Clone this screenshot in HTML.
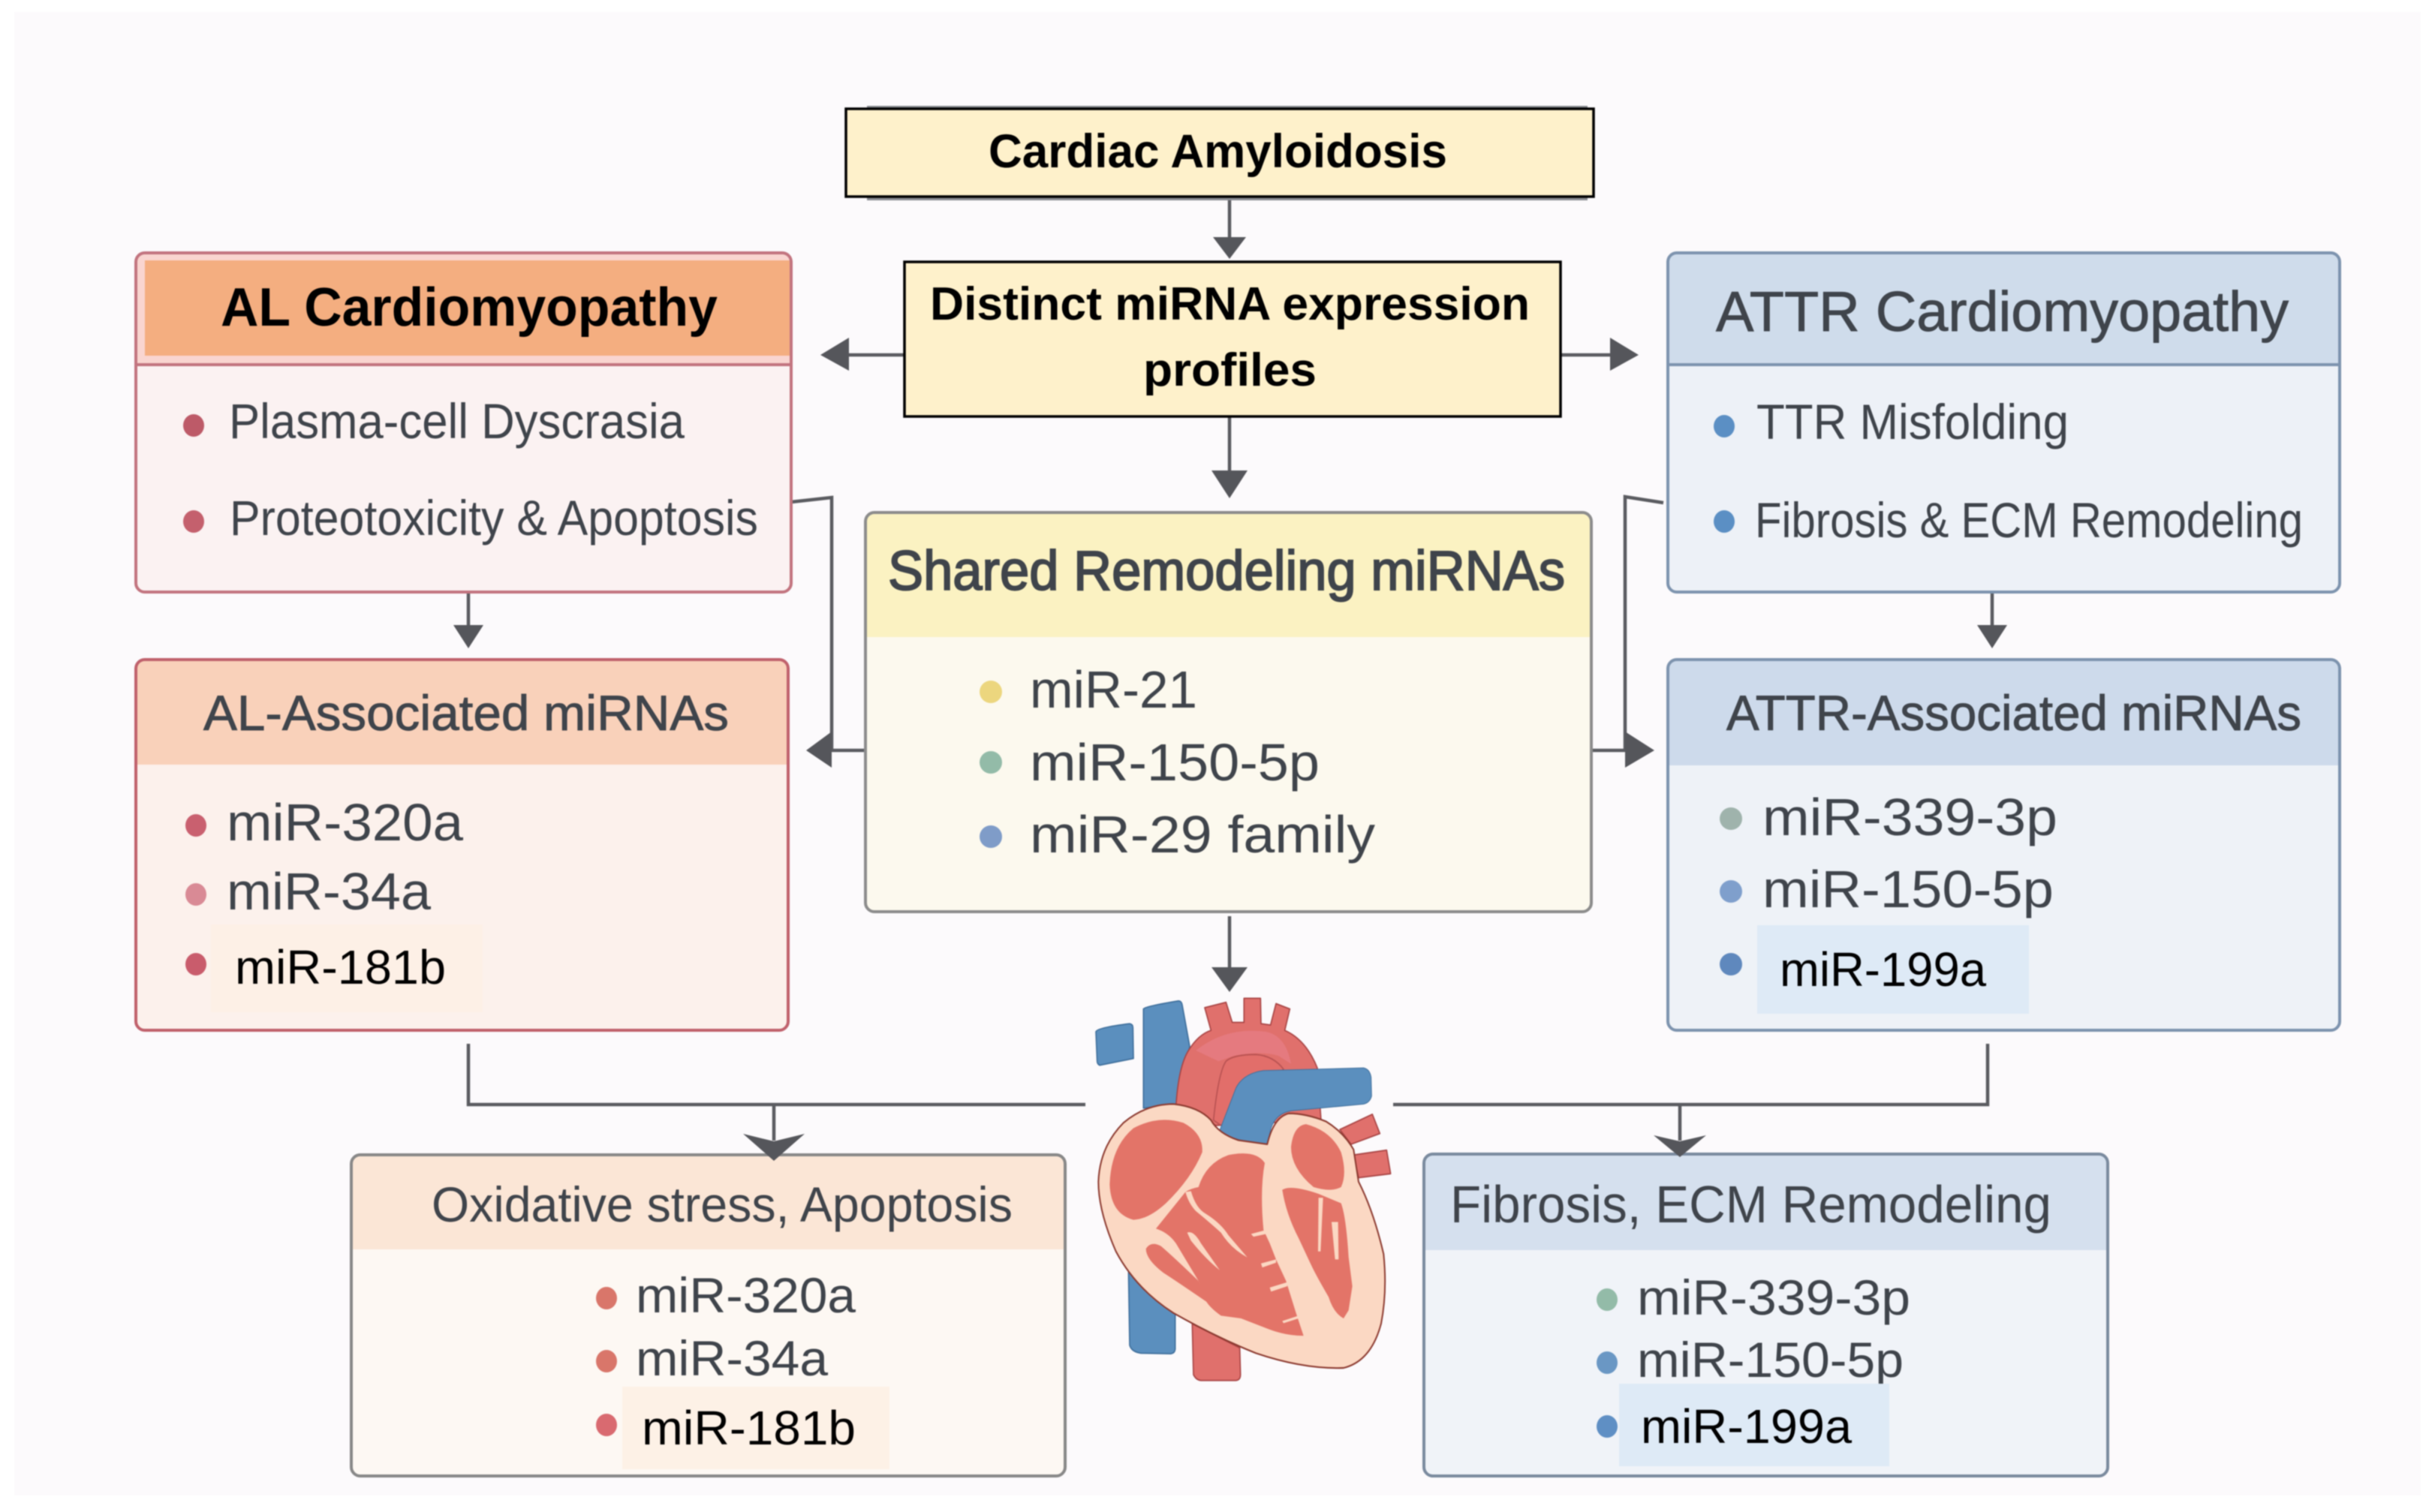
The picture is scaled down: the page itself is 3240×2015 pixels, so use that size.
<!DOCTYPE html>
<html><head><meta charset="utf-8"><style>
html,body{margin:0;padding:0;background:#fff}
svg{display:block;filter:blur(.7px)}
text{font-family:"Liberation Sans",Arial,sans-serif;fill:#3f444b}
.b{font-weight:bold;fill:#000}
.m{stroke:#3f444b;stroke-width:.9}
.k{fill:#000;font-size:64px}
.l{font-size:66px}
.n{font-size:70px}
.c{stroke:#5a5b60;stroke-width:4.5;fill:none}
.h{fill:#55565b}
</style></head><body>
<svg width="3240" height="2015" viewBox="0 0 3240 2015" xmlns="http://www.w3.org/2000/svg">
<rect x="19" y="16" width="3206" height="1977" fill="#fcfafc"/>

<!-- connectors -->
<path class="c" d="M1638 263V320M1638 555V632M1205 473H1128M2079 473H2148M624 790V836M2654 790V836M1054 669L1108 663V1000M1108 1000H1153M2216 670L2165 662V1000M2120 1000H2165M1638 1221V1292"/>
<path class="c" d="M624 1391V1472H1446M1031 1472V1520M2648 1391V1472H1856M2238 1472V1520"/>

<!-- Cardiac -->
<rect x="1155" y="141" width="960" height="126" fill="#8a8c92"/>
<rect x="1127" y="145" width="996" height="117" fill="#fef1cb" stroke="#000" stroke-width="3.5"/>
<text class="b" x="1317" y="223" font-size="63" textLength="611" lengthAdjust="spacingAndGlyphs">Cardiac Amyloidosis</text>
<!-- Distinct -->
<rect x="1205" y="349" width="874" height="206" fill="#fef1cb" stroke="#000" stroke-width="3.5"/>
<text class="b" x="1239" y="426" font-size="62" textLength="799" lengthAdjust="spacingAndGlyphs">Distinct miRNA expression</text>
<text class="b" x="1523" y="514" font-size="62" textLength="231" lengthAdjust="spacingAndGlyphs">profiles</text>

<!-- AL -->
<rect x="181" y="337" width="873" height="452" rx="12" fill="#fbf2f2"/>
<path d="M181 486V349Q181 337 193 337H1042Q1054 337 1054 349V486Z" fill="#f9d5d0"/>
<rect x="193" y="347" width="861" height="127" fill="#f4ae80"/>
<rect x="181" y="337" width="873" height="452" rx="12" fill="none" stroke="#c2747f" stroke-width="4"/>
<path d="M181 486H1054" stroke="#c2747f" stroke-width="4"/>
<text class="b" x="294" y="434" font-size="72" textLength="662" lengthAdjust="spacingAndGlyphs">AL Cardiomyopathy</text>
<ellipse cx="258" cy="567" rx="14" ry="15" fill="#bd5a68"/>
<ellipse cx="258" cy="695" rx="14" ry="15" fill="#c4606d"/>
<text class="l" x="305" y="584" textLength="607" lengthAdjust="spacingAndGlyphs">Plasma-cell Dyscrasia</text>
<text class="l" x="306" y="713" textLength="704" lengthAdjust="spacingAndGlyphs">Proteotoxicity &amp; Apoptosis</text>

<!-- ATTR -->
<rect x="2222" y="337" width="895" height="452" rx="12" fill="#edf1f7"/>
<path d="M2222 486V349Q2222 337 2234 337H3105Q3117 337 3117 349V486Z" fill="#cfdceb"/>
<rect x="2222" y="337" width="895" height="452" rx="12" fill="none" stroke="#7d93ae" stroke-width="4"/>
<path d="M2222 486H3117" stroke="#7d93ae" stroke-width="4"/>
<text x="2286" y="441" font-size="75" textLength="763" lengthAdjust="spacingAndGlyphs" class="m">ATTR Cardiomyopathy</text>
<ellipse cx="2297" cy="568" rx="14" ry="15" fill="#5b8fc4"/>
<ellipse cx="2297" cy="695" rx="14" ry="15" fill="#5b8fc4"/>
<text class="l" x="2340" y="585" textLength="416" lengthAdjust="spacingAndGlyphs">TTR Misfolding</text>
<text class="l" x="2338" y="716" textLength="730" lengthAdjust="spacingAndGlyphs">Fibrosis &amp; ECM Remodeling</text>

<!-- AL assoc -->
<rect x="181" y="879" width="869" height="494" rx="12" fill="#fcf1ec"/>
<path d="M181 1019V891Q181 879 193 879H1038Q1050 879 1050 891V1019Z" fill="#f9d1ba"/>
<rect x="181" y="879" width="869" height="494" rx="12" fill="none" stroke="#c0616c" stroke-width="4"/>
<text x="271" y="973" font-size="66" textLength="700" lengthAdjust="spacingAndGlyphs" class="m">AL-Associated miRNAs</text>
<ellipse cx="261" cy="1100" rx="14" ry="15" fill="#c9606f"/>
<ellipse cx="261" cy="1192" rx="14" ry="15" fill="#d98a95"/>
<rect x="281" y="1232" width="362" height="117" fill="#fdf0e6"/>
<ellipse cx="261" cy="1285" rx="14" ry="15" fill="#c95c6c"/>
<text class="n" x="302" y="1120" textLength="315" lengthAdjust="spacingAndGlyphs">miR-320a</text>
<text class="n" x="302" y="1212" textLength="272" lengthAdjust="spacingAndGlyphs">miR-34a</text>
<text class="k" x="313" y="1311" textLength="281" lengthAdjust="spacingAndGlyphs">miR-181b</text>

<!-- ATTR assoc -->
<rect x="2222" y="879" width="895" height="494" rx="12" fill="#eef2f7"/>
<path d="M2222 1020V891Q2222 879 2234 879H3105Q3117 879 3117 891V1020Z" fill="#cddaeb"/>
<rect x="2222" y="879" width="895" height="494" rx="12" fill="none" stroke="#7d93ae" stroke-width="4"/>
<text x="2300" y="973" font-size="66" textLength="766" lengthAdjust="spacingAndGlyphs" class="m">ATTR-Associated miRNAs</text>
<ellipse cx="2306" cy="1091" rx="15" ry="15" fill="#9fb3ac"/>
<ellipse cx="2306" cy="1188" rx="15" ry="15" fill="#7f9fcc"/>
<rect x="2341" y="1233" width="362" height="118" fill="#deeaf6"/>
<ellipse cx="2306" cy="1285" rx="15" ry="15" fill="#5f88bd"/>
<text class="n" x="2348" y="1113" textLength="393" lengthAdjust="spacingAndGlyphs">miR-339-3p</text>
<text class="n" x="2348" y="1209" textLength="388" lengthAdjust="spacingAndGlyphs">miR-150-5p</text>
<text class="k" x="2371" y="1314" textLength="275" lengthAdjust="spacingAndGlyphs">miR-199a</text>

<!-- Shared -->
<rect x="1153" y="683" width="967" height="532" rx="12" fill="#fcf9ee"/>
<path d="M1153 849V695Q1153 683 1165 683H2108Q2120 683 2120 695V849Z" fill="#fbf2c2"/>
<rect x="1153" y="683" width="967" height="532" rx="12" fill="none" stroke="#8c8c8c" stroke-width="4"/>
<text x="1183" y="786" font-size="74" textLength="902" lengthAdjust="spacingAndGlyphs" stroke="#3f444b" stroke-width="2">Shared Remodeling miRNAs</text>
<ellipse cx="1320" cy="922" rx="15" ry="15" fill="#ecd67e"/>
<ellipse cx="1320" cy="1016" rx="15" ry="15" fill="#93bba8"/>
<ellipse cx="1320" cy="1115" rx="15" ry="15" fill="#7f9cc8"/>
<text class="n" x="1372" y="943" textLength="223" lengthAdjust="spacingAndGlyphs">miR-21</text>
<text class="n" x="1372" y="1040" textLength="386" lengthAdjust="spacingAndGlyphs">miR-150-5p</text>
<text class="n" x="1372" y="1136" textLength="460" lengthAdjust="spacingAndGlyphs">miR-29 family</text>

<!-- Oxidative -->
<rect x="468" y="1539" width="951" height="428" rx="12" fill="#fdf8f3"/>
<path d="M468 1665V1551Q468 1539 480 1539H1407Q1419 1539 1419 1551V1665Z" fill="#fbe6d6"/>
<rect x="468" y="1539" width="951" height="428" rx="12" fill="none" stroke="#888" stroke-width="4"/>
<text x="575" y="1628" font-size="66" textLength="774" lengthAdjust="spacingAndGlyphs">Oxidative stress, Apoptosis</text>
<ellipse cx="808" cy="1730" rx="14" ry="15" fill="#d9766a"/>
<ellipse cx="808" cy="1814" rx="14" ry="15" fill="#d9766a"/>
<rect x="829" y="1848" width="356" height="110" fill="#fdf1e6"/>
<ellipse cx="808" cy="1899" rx="14" ry="15" fill="#d96a70"/>
<text x="847" y="1749" font-size="66" textLength="293" lengthAdjust="spacingAndGlyphs">miR-320a</text>
<text x="847" y="1833" font-size="66" textLength="256" lengthAdjust="spacingAndGlyphs">miR-34a</text>
<text class="k" x="855" y="1925" textLength="285" lengthAdjust="spacingAndGlyphs">miR-181b</text>

<!-- Fibrosis -->
<rect x="1897" y="1538" width="911" height="429" rx="12" fill="#f0f3f8"/>
<path d="M1897 1666V1550Q1897 1538 1909 1538H2796Q2808 1538 2808 1550V1666Z" fill="#d5e0ee"/>
<rect x="1897" y="1538" width="911" height="429" rx="12" fill="none" stroke="#7a8a9e" stroke-width="4"/>
<text x="1932" y="1629" font-size="70" textLength="801" lengthAdjust="spacingAndGlyphs">Fibrosis, ECM Remodeling</text>
<ellipse cx="2141" cy="1732" rx="14" ry="15" fill="#93bba8"/>
<ellipse cx="2141" cy="1816" rx="14" ry="15" fill="#6a97c4"/>
<text x="2181" y="1752" font-size="66" textLength="364" lengthAdjust="spacingAndGlyphs">miR-339-3p</text>
<text x="2181" y="1835" font-size="66" textLength="355" lengthAdjust="spacingAndGlyphs">miR-150-5p</text>
<rect x="2157" y="1844" width="360" height="110" fill="#deeaf6"/>
<ellipse cx="2141" cy="1901" rx="14" ry="15" fill="#5f8fc4"/>
<text class="k" x="2186" y="1923" textLength="281" lengthAdjust="spacingAndGlyphs">miR-199a</text>

<!-- arrowheads on top of boxes -->
<path class="h" d="M1616 316H1660L1638 345ZM1614 627H1662L1638 664ZM1131 450V494L1093 473ZM2145 450V494L2183 473ZM604 833H644L624 864ZM2634 833H2674L2654 864ZM1108 975V1023L1074 1000ZM2165 975V1023L2204 1000ZM1614 1289H1662L1638 1322ZM990 1511L1031 1521L1072 1511L1031 1547ZM2203 1513L2238 1521L2273 1513L2238 1542Z"/>

<!-- Heart -->
<g transform="translate(1420 1300) scale(.3333 .357)" stroke-linejoin="round">
<g fill="#5b8fbe" stroke="#3f6f9c" stroke-width="5">
<path d="M310 125Q320 115 450 95Q462 95 465 110L495 265L445 480L310 495Z"/>
<path d="M120 210Q125 195 255 180Q268 182 268 195L270 310L135 335Q125 330 125 320Z"/>
<path d="M250 1090L255 1380Q262 1405 300 1410L420 1412Q435 1410 437 1395L437 1250Z"/>
</g>
<g fill="#e0706c" stroke="#a84444" stroke-width="5">
<path d="M505 1300L510 1490Q520 1510 540 1512L680 1512Q698 1510 698 1490L695 1390Z"/>
<path d="M440 490Q450 340 490 280Q530 220 580 205L555 120L640 100L665 175L712 175L712 85L778 85L780 180L818 185L840 105L895 125L875 205Q960 240 1005 345L1020 540L600 560Z"/>
<path d="M1095 575L1225 518L1255 590L1140 630Z"/>
<path d="M1150 670L1282 652L1298 740L1170 755Z"/>
</g>
<path d="M520 280Q640 190 800 210Q880 225 900 330L850 300Q780 280 670 300L610 320Z" fill="#e57a7f"/>
<path d="M590 540Q610 360 640 320Q670 295 760 295Q830 300 870 350L620 560Z" fill="#e26e6a" stroke="#b85252" stroke-width="5"/>
<path d="M612 585L680 420Q710 365 790 355L1190 345Q1215 350 1220 380L1222 450Q1215 475 1190 480L900 505Q840 515 820 570L805 630Q680 620 612 585Z" fill="#5b8fbe" stroke="#3f6f9c" stroke-width="3"/>
<path d="M130 770Q135 640 230 550Q320 480 430 480Q530 490 580 540Q610 590 690 615L805 630Q830 530 890 515Q960 515 1040 545Q1110 585 1150 650L1170 770Q1230 880 1270 1040Q1285 1180 1260 1300Q1220 1440 1110 1465Q950 1470 760 1410Q600 1350 430 1260Q280 1170 200 1030Q130 880 130 770Z" fill="#fbd8c3" stroke="#8c3a30" stroke-width="6"/>
<g fill="#e37468">
<path d="M175 780Q180 640 270 570Q370 520 470 550Q550 590 545 660Q500 760 400 850Q330 910 270 912Q180 890 175 780Z"/>
<path d="M360 945L478 808Q500 795 530 790Q560 700 650 670Q760 650 795 700Q775 800 790 950L815 1000L840 1060L880 1140L920 1260L950 1345Q880 1345 810 1320L700 1280L620 1270Q575 1240 560 1215L530 1140L440 1000Q410 960 360 945Z"/>
<path d="M320 1020Q340 990 380 1010Q430 1050 530 1140L565 1220Q440 1140 390 1110Q320 1060 320 1020Z"/>
<path d="M900 640Q910 560 960 555Q1060 580 1100 660Q1125 740 1100 790Q1060 810 990 790Q900 720 900 640Z"/>
<path d="M865 800Q900 780 1010 815L1100 850Q1120 900 1130 1050L1145 1160L1130 1250L1110 1280Q1070 1260 1050 1200Q1000 1120 980 1080L930 980Q880 890 865 800Z"/>
</g>
<g fill="#fbd8c3">
<path d="M478 808L500 805Q520 870 560 890Q620 925 650 970L725 1052Q660 1020 620 960Q560 910 520 880Q490 850 478 808Z"/>
<path d="M485 960Q510 950 540 1000L615 1100Q560 1060 500 990Z"/>
<path d="M1010 830H1028L1018 1030H1008Z"/>
<path d="M1062 920H1088L1090 1060H1076Z"/>
<path d="M740 965L800 950V965L750 975ZM780 1075L840 1060V1072L785 1090ZM815 1165L885 1145V1160L820 1180ZM865 1290L930 1270V1280L870 1298Z"/>
</g>
</g>
</svg>
</body></html>
